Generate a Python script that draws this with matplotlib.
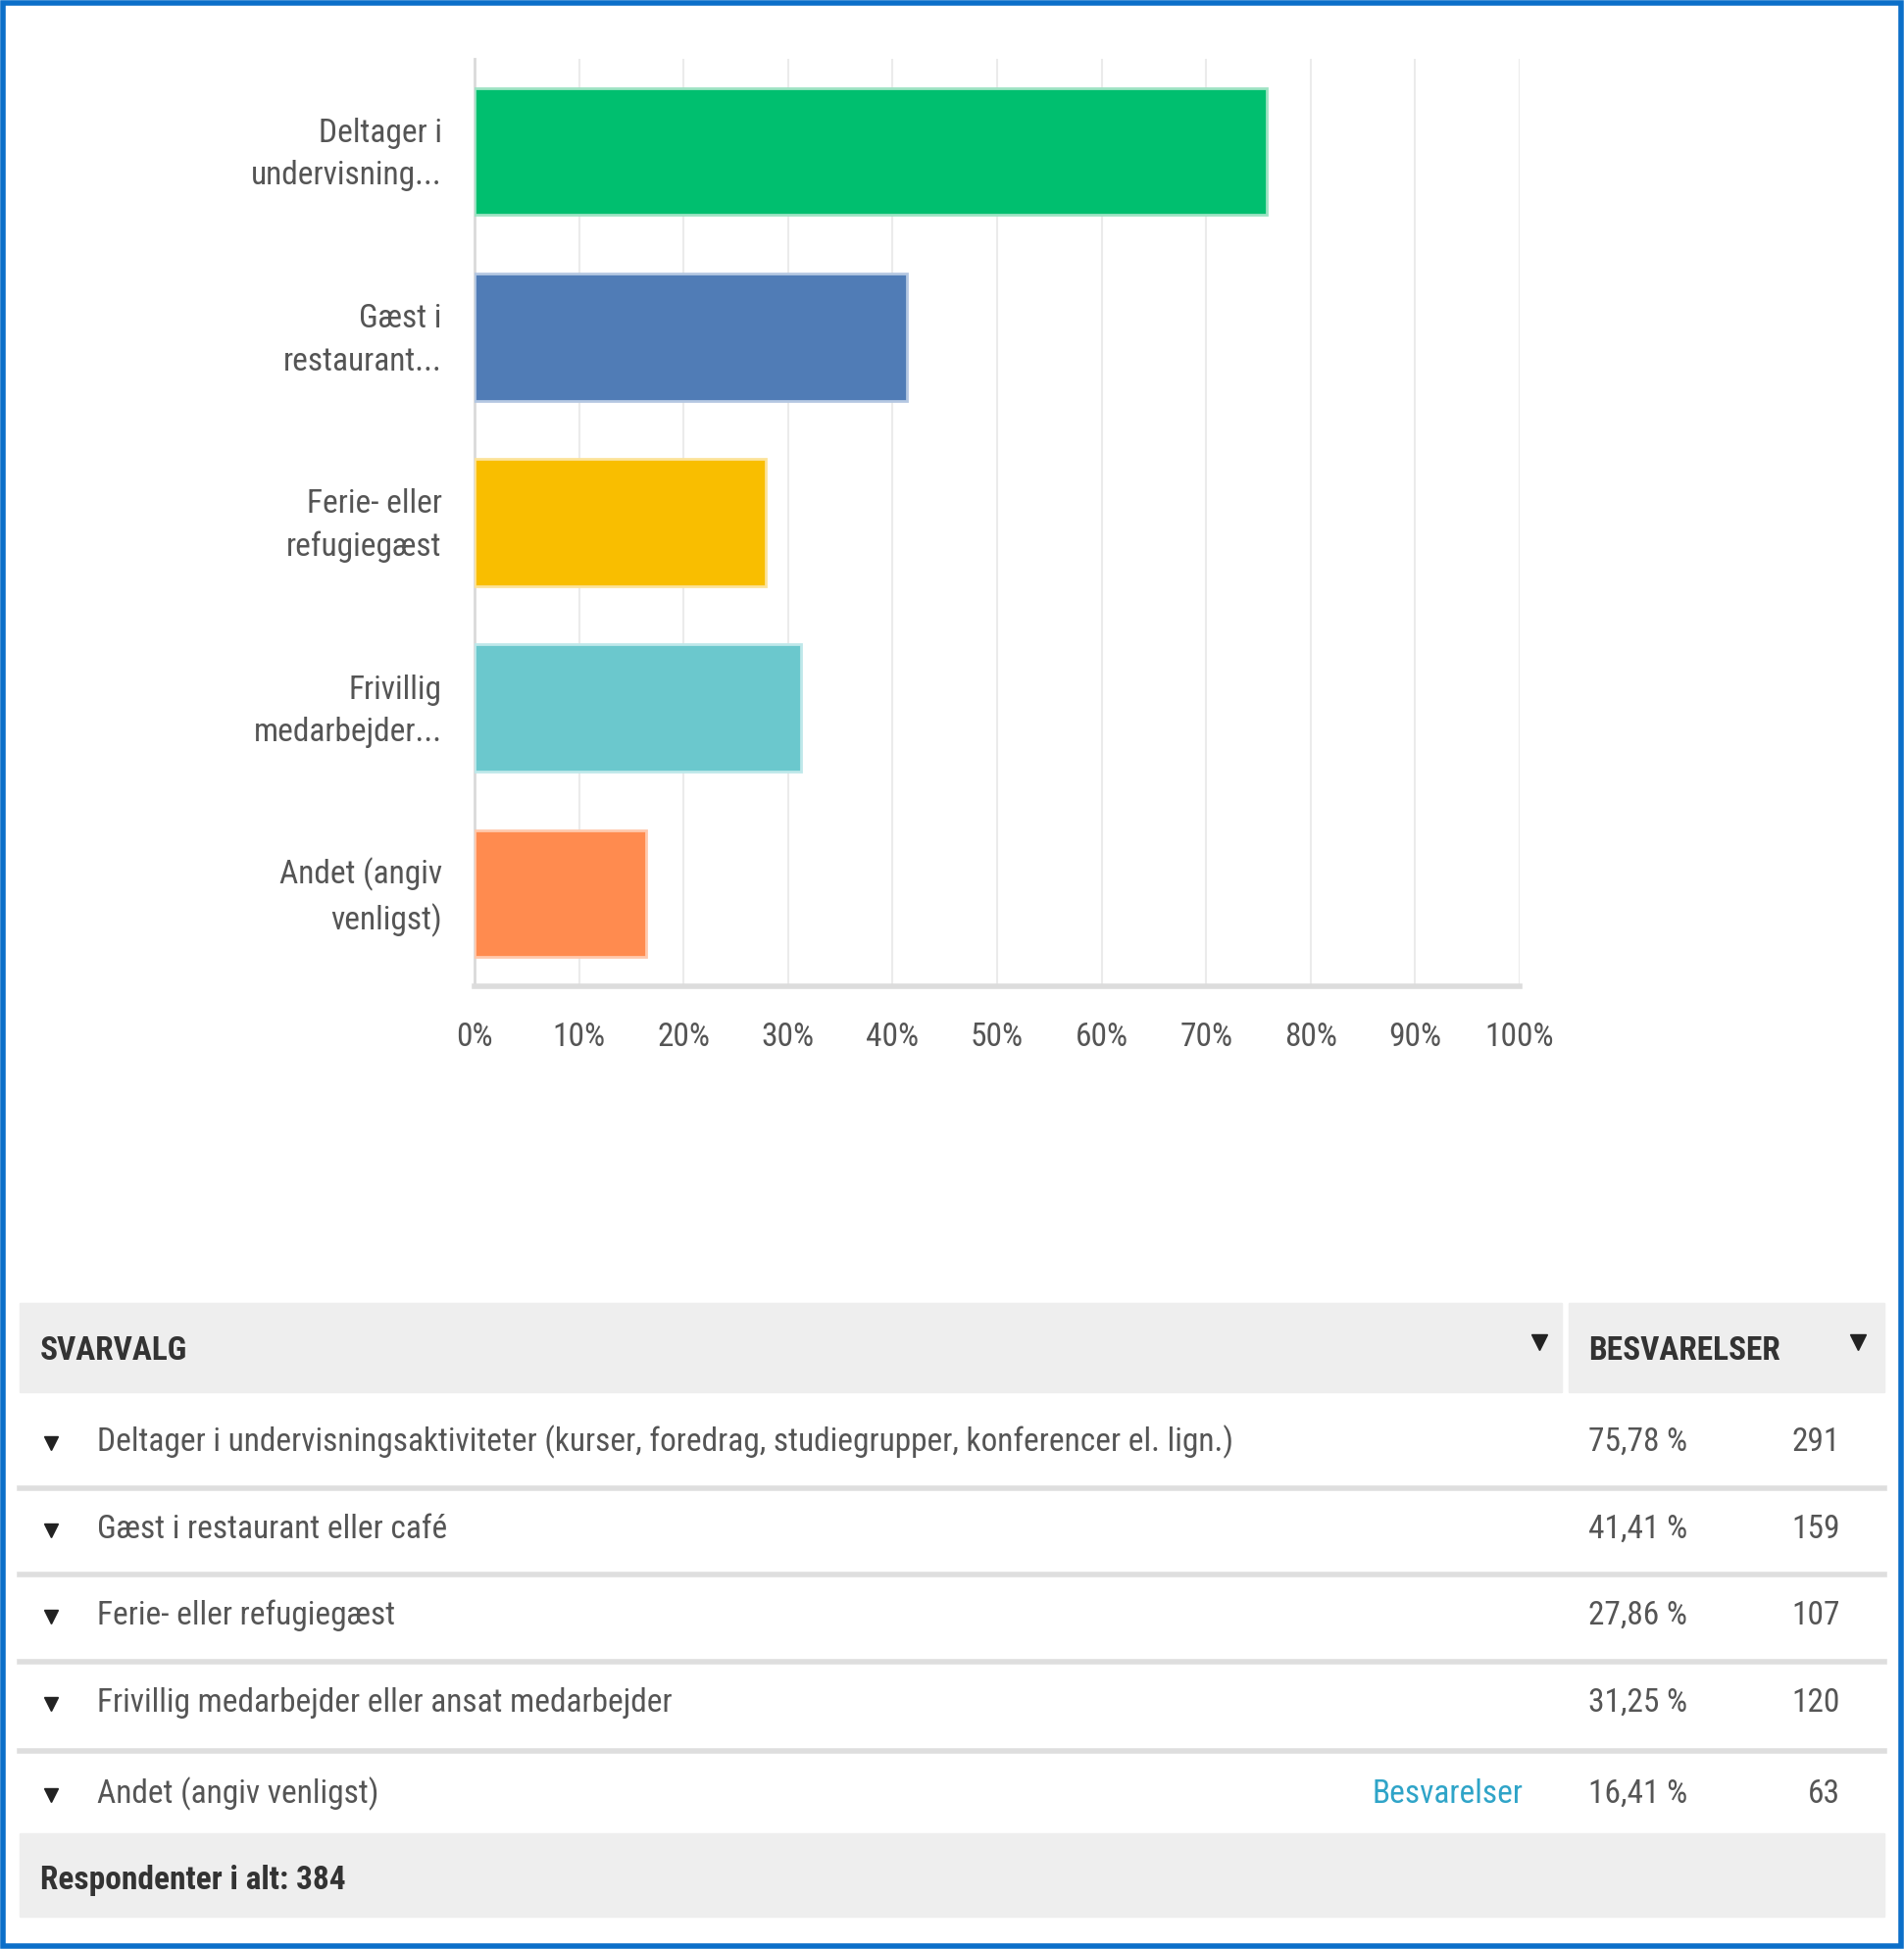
from matplotlib import font_manager
from matplotlib import pyplot as plt
from matplotlib.patches import Rectangle
from matplotlib.transforms import ScaledTranslation

W, H = 1942, 1988

# Data
SHORT_LABELS = [
    'Deltager i\nundervisning...',
    'Gæst i\nrestaurant...',
    'Ferie- eller\nrefugiegæst',
    'Frivillig\nmedarbejder...',
    'Andet (angiv\nvenligst)',
]
FULL_LABELS = [
    'Deltager i undervisningsaktiviteter (kurser, foredrag, studiegrupper, konferencer el. lign.)',
    'Gæst i restaurant eller café',
    'Ferie- eller refugiegæst',
    'Frivillig medarbejder eller ansat medarbejder',
    'Andet (angiv venligst)',
]
PERCENTS = [75.78, 41.41, 27.86, 31.25, 16.41]
COUNTS = [291, 159, 107, 120, 63]
TOTAL = 384
COLORS = ['#00BF6F', '#507CB6', '#F9BE00', '#6BC8CD', '#FF8B4F']
EDGES = ['#9FE3C4', '#B5C8E2', '#FCE39A', '#BFE8EA', '#FFC9AD']
TICKS = list(range(0, 101, 10))

TEXT = '#555555'
DARK = '#333333'

# pick a narrow face if there is one, the reference text is very condensed
fonts = font_manager.fontManager.ttflist
names = {f.name for f in fonts}
stretch = 'normal'
size = 20
if 'Liberation Sans Narrow' in names:
    family = 'Liberation Sans Narrow'
    size = 25
elif 'Roboto Condensed' in names:
    family = 'Roboto Condensed'
    size = 24
elif any(f.name == 'DejaVu Sans' and f.stretch == 'condensed' for f in fonts):
    family = 'DejaVu Sans'
    stretch = 'condensed'
    size = 22
else:
    family = 'DejaVu Sans'
plt.rcParams['font.family'] = [family, 'DejaVu Sans']
plt.rcParams['font.stretch'] = stretch

fig = plt.figure(figsize=(W / 100, H / 100), dpi=100)

# Bar chart
ax = fig.add_axes([484 / W, 1 - 1006 / H, (1550 - 484) / W, (1006 - 60) / H])
ypos = list(range(len(PERCENTS)))
ax.barh(ypos, PERCENTS, height=0.685, color=COLORS, edgecolor=EDGES,
        linewidth=2, zorder=3)
ax.set_xlim(0, 100)
ax.set_ylim(len(PERCENTS) - 0.5, -0.5)
ax.set_xticks(TICKS)
ax.set_xticklabels(['{}%'.format(t) for t in TICKS])
ax.set_yticks(ypos)
ax.set_yticklabels(SHORT_LABELS, linespacing=1.45)
ax.tick_params(axis='x', length=0, pad=26, labelsize=size, labelcolor=TEXT)
ax.tick_params(axis='y', length=0, pad=24, labelsize=size, labelcolor=TEXT)
shift = ScaledTranslation(0, 6 / 100, fig.dpi_scale_trans)
for lab in ax.get_yticklabels():
    lab.set_transform(lab.get_transform() + shift)
ax.grid(axis='x', color='#EBEBEB', linewidth=1.5, zorder=0)
for side in ['top', 'right']:
    ax.spines[side].set_visible(False)
ax.spines['left'].set_color('#D9D9D9')
ax.spines['left'].set_linewidth(2)
ax.spines['bottom'].set_color('#DCDCDC')
ax.spines['bottom'].set_linewidth(4)

# Table overlay in pixel coordinates
ov = fig.add_axes([0, 0, 1, 1], zorder=5)
ov.set_xlim(0, W)
ov.set_ylim(H, 0)
ov.axis('off')
ov.patch.set_alpha(0)

# header
ov.add_patch(Rectangle((20, 1329), 1593 - 20, 91, color='#EEEEEE'))
ov.add_patch(Rectangle((1600, 1329), 1922 - 1600, 91, color='#EEEEEE'))
ov.text(41, 1378, 'SVARVALG', fontsize=size, color=DARK, va='center',
        fontweight='bold')
ov.text(1620, 1378, 'BESVARELSER', fontsize=size, color=DARK, va='center',
        fontweight='bold')
ov.plot([1570, 1895], [1369, 1369], linestyle='none', marker='v',
        markersize=11, color='#222222')

# rows
row_y = [1471, 1560, 1648, 1737, 1830]
for i, (label, pct, cnt) in enumerate(zip(FULL_LABELS, PERCENTS, COUNTS)):
    y = row_y[i]
    ov.plot(52, y + 1, marker='v', markersize=10, color='#222222')
    ov.text(99, y, label, fontsize=size, color=TEXT, va='center')
    pct_str = '{:.2f} %'.format(pct).replace('.', ',')
    ov.text(1620, y, pct_str, fontsize=size, color=TEXT, va='center')
    ov.text(1877, y, str(cnt), fontsize=size, color=TEXT, va='center',
            ha='right')
    if i < len(FULL_LABELS) - 1:
        sep = (row_y[i] + row_y[i + 1]) / 2 + 2
        ov.plot([20, 1922], [sep, sep], color='#DEDEDE', linewidth=4)
ov.text(1400, row_y[-1], 'Besvarelser', fontsize=size, color='#2FA4C8',
        va='center')

# footer
ov.add_patch(Rectangle((20, 1870), 1902, 85, color='#EEEEEE'))
ov.text(41, 1918, 'Respondenter i alt: {}'.format(TOTAL), fontsize=size,
        color=DARK, va='center', fontweight='bold')

# outer frame
ov.add_patch(Rectangle((3, 3), W - 6, H - 6, fill=False, edgecolor='#0B6FC9',
                       linewidth=4))

fig.savefig('out.png', dpi=100, facecolor='white')
